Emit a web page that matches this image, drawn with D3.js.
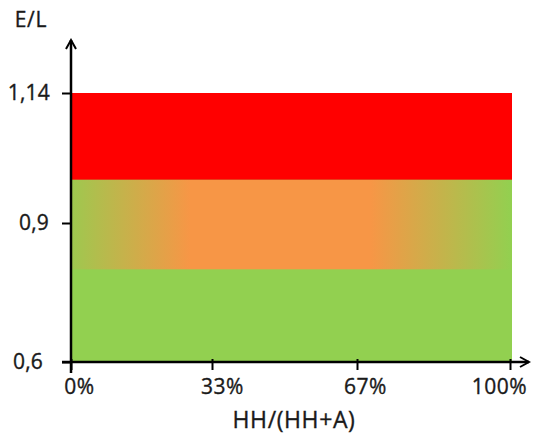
<!DOCTYPE html>
<html><head><meta charset="utf-8">
<script src="https://cdn.jsdelivr.net/npm/d3@7"></script>
<style>body{margin:0;background:#fff}text{font-family:"Open Sans",sans-serif;fill:#1a1a1a;stroke:#1a1a1a;stroke-width:0.35px}</style>
</head><body>
<svg id="c" width="533" height="435"></svg>
<script>
// data
const yTickValues = [0.6, 0.9, 1.14];
const yTickLabels = ["0,6", "0,9", "1,14"];
const xTickValues = [0, 33, 67, 100];
const xTickLabels = ["0%", "33%", "67%", "100%"];
const zoneNames = ["green", "transition", "red"];
const zoneLow = [0.6, 0.8, 0.98];
const zoneHigh = [1.14, 0.98, 1.14];
const zoneColors = ["#92D050", "url(#grad)", "#FF0000"];
const gradOffsets = [0, 0.27, 0.68, 1];
const gradColors = ["#9ec84f", "#F79646", "#F79646", "#92D050"];

// label placement tweaks (layout only)
const xLabelShift = [8, 10, 8, -11];
const yLabelShift = [-7, -1, 0];

const svg = d3.select("#c");
const x = d3.scaleLinear().domain(xTickValues).range([71, 212, 357, 510]);
const y = d3.scaleLinear().domain(yTickValues).range([362, 223, 93]);

const defs = svg.append("defs");
const g = defs.append("linearGradient").attr("id", "grad")
  .attr("gradientUnits", "userSpaceOnUse")
  .attr("x1", x(0)).attr("x2", x(100) + 2).attr("y1", 0).attr("y2", 0);
g.selectAll("stop").data(gradOffsets).join("stop")
  .attr("offset", d => d).attr("stop-color", (d, i) => gradColors[i]);
const m = defs.append("marker").attr("id", "arr").attr("viewBox", "0 0 12 12")
  .attr("refX", 10).attr("refY", 6).attr("markerWidth", 12).attr("markerHeight", 12)
  .attr("markerUnits", "userSpaceOnUse").attr("orient", "auto");
m.append("path").attr("d", "M1,1 L10,6 L1,11").attr("fill", "none").attr("stroke", "#000").attr("stroke-width", 2);

svg.selectAll("rect.zone").data(zoneNames).join("rect").attr("class", "zone")
  .attr("x", x(0)).attr("width", x(100) + 2 - x(0))
  .attr("y", (d, i) => y(zoneHigh[i])).attr("height", (d, i) => y(zoneLow[i]) - y(zoneHigh[i]))
  .attr("fill", (d, i) => zoneColors[i]);

const FS = "21px";
// axes
const yAxis = d3.axisLeft(y).tickValues(yTickValues).tickFormat((d, i) => yTickLabels[i]).tickSize(9).tickPadding(12);
const ya = svg.append("g").attr("transform", `translate(${x(0)},0)`).call(yAxis);
ya.attr("font-size", null).attr("font-family", null);
ya.select(".domain").remove();
ya.selectAll("line").attr("stroke", "#000").attr("stroke-width", 2);
ya.selectAll("text").style("font-size", FS).style("letter-spacing", "0.2px")
  .attr("dy", "0.3em").attr("dx", (d, i) => yLabelShift[i]);

const xAxis = d3.axisBottom(x).tickValues(xTickValues).tickFormat((d, i) => xTickLabels[i]).tickSize(11);
const xa = svg.append("g").attr("transform", `translate(0,${y(0.6) - 3})`).call(xAxis);
xa.attr("font-size", null).attr("font-family", null);
xa.select(".domain").remove();
xa.selectAll("line").attr("stroke", "#000").attr("stroke-width", 2);
xa.selectAll("text").style("font-size", FS).style("letter-spacing", "0.5px")
  .attr("y", 35).attr("dy", 0).attr("dx", (d, i) => xLabelShift[i]);

svg.append("line").attr("x1", x(0)).attr("x2", x(0)).attr("y1", y(0.6) + 11).attr("y2", 40)
  .attr("stroke", "#000").attr("stroke-width", 2.5).attr("marker-end", "url(#arr)");
svg.append("line").attr("x1", x(0) - 9).attr("x2", 529).attr("y1", y(0.6)).attr("y2", y(0.6))
  .attr("stroke", "#000").attr("stroke-width", 2.5).attr("marker-end", "url(#arr)");

svg.append("text").attr("x", 31).attr("y", 27).attr("text-anchor", "middle")
  .style("font-size", "21px").style("letter-spacing", "0.8px").text("E/L");
svg.append("text").attr("x", 294).attr("y", 428).attr("text-anchor", "middle")
  .style("font-size", "23px").style("letter-spacing", "0.6px").text("HH/(HH+A)");
</script>
</body></html>
